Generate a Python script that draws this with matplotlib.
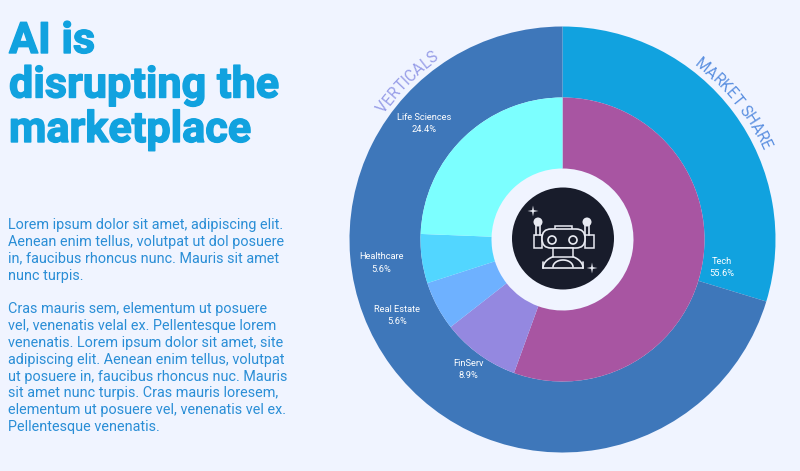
import numpy as np
import matplotlib
matplotlib.use("Agg")
import matplotlib.pyplot as plt
import matplotlib.patheffects as pe
from matplotlib.font_manager import FontProperties
from matplotlib.textpath import TextToPath
from matplotlib.patches import Circle, Rectangle, FancyBboxPatch, Polygon

BG = "#F0F4FF"
verticals = ["Tech", "FinServ", "Real Estate", "Healthcare", "Life Sciences"]
vertical_share = [55.6, 8.9, 5.6, 5.6, 24.4]
vertical_colors = ["#A855A2", "#9488E0", "#6EB1FF", "#52D6FF", "#7CFFFF"]
market_share = [29.7, 70.3]
market_colors = ["#11A2DF", "#3E77BA"]
title_lines = ["AI is", "disrupting the", "marketplace"]
para_lines = [
    "Lorem ipsum dolor sit amet, adipiscing elit.",
    "Aenean enim tellus, volutpat ut dol posuere",
    "in, faucibus rhoncus nunc. Mauris sit amet",
    "nunc turpis.",
    "",
    "Cras mauris sem, elementum ut posuere",
    "vel, venenatis velal ex. Pellentesque lorem",
    "venenatis. Lorem ipsum dolor sit amet, site",
    "adipiscing elit. Aenean enim tellus, volutpat",
    "ut posuere in, faucibus rhoncus nuc. Mauris",
    "sit amet nunc turpis. Cras mauris loresem,",
    "elementum ut posuere vel, venenatis vel ex.",
    "Pellentesque venenatis.",
]
label_pos = [(722, 267.5), (468, 369.5), (397, 315.5), (381, 263), (424, 123.5)]

fig = plt.figure(figsize=(8, 4.71), dpi=100, facecolor=BG)
ax = fig.add_axes([0, 0, 1, 1])

cx, cy = 562.5, 239.5
R1, R2, R3 = 213, 142, 71
ax.pie(market_share, colors=market_colors, radius=R1, center=(cx, cy), startangle=-90,
       counterclock=True, wedgeprops=dict(width=R1 - R2, linewidth=0), frame=False)
ax.pie(vertical_share, colors=vertical_colors, radius=R2, center=(cx, cy), startangle=-90,
       counterclock=True, wedgeprops=dict(width=R2 - R3, linewidth=0), frame=False)
ax.set_xlim(0, 800)
ax.set_ylim(471, 0)
ax.set_aspect("auto")
ax.axis("off")

for name, val, (x, y) in zip(verticals, vertical_share, label_pos):
    ax.text(x, y - 6.3, name, color="white", fontsize=6.7, family="Roboto", ha="center", va="center")
    ax.text(x, y + 6.3, f"{val}%", color="white", fontsize=6.7, family="Roboto", ha="center", va="center")

# Curved ring captions, letters spaced by their real widths
t2p = TextToPath()
def curved(text, radius, mid_deg, color, fs=11.2):
    fp = FontProperties(family="Roboto", size=fs)
    widths = [t2p.get_text_width_height_descent(c, fp, False)[0] * 100 / 72 for c in text]
    total = sum(widths)
    pos = -total / 2
    for ch, w in zip(text, widths):
        deg = mid_deg + np.degrees((pos + w / 2) / radius)
        a = np.radians(deg)
        ax.text(cx + radius * np.sin(a), cy - radius * np.cos(a), ch, color=color,
                fontproperties=fp, ha="center", va="center", rotation=-deg, rotation_mode="anchor")
        pos += w

curved("MARKET SHARE", 223, 51.5, "#5A8FE0")
curved("VERTICALS", 223, -44.6, "#989EE8")

# Centre badge and robot icon
ic = "#E8EAF2"
dk = "#181C2B"
ax.add_patch(Circle((563, 238.5), 51, fc=dk, ec="none", zorder=3))
def line(xs, ys, lw=1.2, z=4):
    ax.plot(xs, ys, color=ic, lw=lw, solid_capstyle="round", zorder=z)
ax.add_patch(Rectangle((555, 226), 17, 5, fc=dk, ec=ic, lw=1.1, zorder=4))
ax.add_patch(FancyBboxPatch((542, 229), 43, 19, boxstyle="round,pad=0,rounding_size=9", fc=dk, ec=ic, lw=1.2, zorder=5))
ax.add_patch(Circle((552, 240), 4, fc=dk, ec=ic, lw=1.2, zorder=6))
ax.add_patch(Circle((573, 240), 4, fc=dk, ec=ic, lw=1.2, zorder=6))
ax.add_patch(Rectangle((533.5, 235), 8.5, 13, fc=dk, ec=ic, lw=1.1, zorder=4))
ax.add_patch(Rectangle((585, 235), 8.5, 13, fc=dk, ec=ic, lw=1.1, zorder=4))
ax.add_patch(Circle((538, 222), 4.5, fc=ic, ec="none", zorder=5))
ax.add_patch(Circle((587, 222), 4.5, fc=ic, ec="none", zorder=5))
line([536, 536], [224, 235]); line([540, 540], [224, 235])
line([585, 585], [224, 235]); line([589, 589], [224, 235])
th = np.linspace(np.pi, 2 * np.pi, 40)
line(563 + 20 * np.cos(th), 268 + 13 * np.sin(th))
line(563 + 10 * np.cos(th), 267 + 7 * np.sin(th))
line([543, 583], [268, 268]); line([543, 543], [262, 268]); line([583, 583], [262, 268])
ax.add_patch(Rectangle((553, 248), 20, 9, fc=dk, ec=ic, lw=1.1, zorder=5))
for (sx, sy, s) in [(533, 211, 5.5), (592, 268, 5.5)]:
    pts = [(sx, sy - s), (sx + 0.9, sy - 0.9), (sx + s, sy), (sx + 0.9, sy + 0.9),
           (sx, sy + s), (sx - 0.9, sy + 0.9), (sx - s, sy), (sx - 0.9, sy - 0.9)]
    ax.add_patch(Polygon(pts, fc=ic, ec="none", zorder=5))

# Title (stroked to reach the heavy weight of the reference)
stroke = [pe.withStroke(linewidth=1.0, foreground="#11A2DF")]
for line_txt, y in zip(title_lines, [53, 97.5, 142]):
    ax.text(9, y, line_txt, color="#11A2DF", fontsize=31.1, family="Roboto", weight="bold",
            ha="left", va="baseline", path_effects=stroke)

# Body text
for i, t in enumerate(para_lines):
    ax.text(8, 225 + i * 16.85, t, color="#2A8ED6", fontsize=10.35, family="Roboto", ha="left", va="center")

fig.savefig("out.png", dpi=100, facecolor=BG)
